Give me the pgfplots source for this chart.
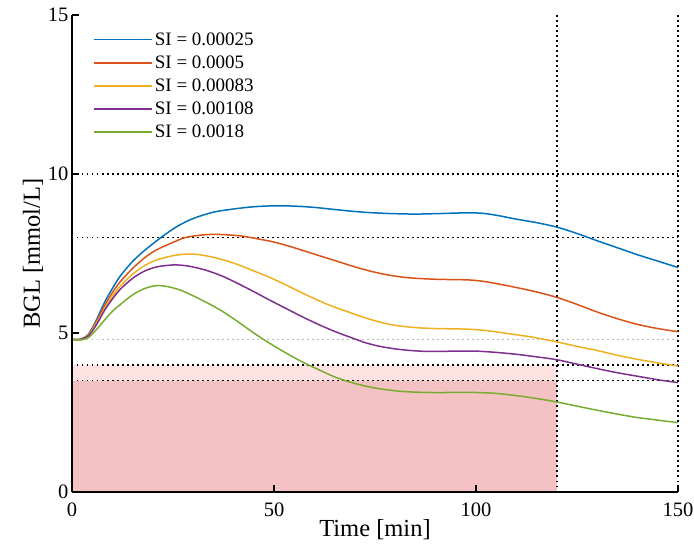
\documentclass[border=0pt]{standalone}
\usepackage{fontspec}
\setmainfont{Liberation Serif}
\usepackage{pgfplots}
\pgfplotsset{compat=1.18}
\definecolor{c1}{rgb}{0,0.447,0.741}
\definecolor{c2}{rgb}{0.85,0.325,0.098}
\definecolor{c3}{rgb}{0.929,0.694,0.125}
\definecolor{c4}{rgb}{0.494,0.184,0.556}
\definecolor{c5}{rgb}{0.466,0.674,0.188}
\definecolor{pinkA}{RGB}{255,226,226}
\definecolor{pinkB}{RGB}{244,194,194}
\begin{document}
\begin{tikzpicture}
\begin{axis}[
  scale only axis, width=606pt, height=477pt,
  xmin=0, xmax=150, ymin=0, ymax=15,
  clip=false,
  axis lines=left, axis line style={-, line width=1.5pt, black},
  xtick={0,50,100,150}, ytick={0,5,10,15},
  tick align=inside, major tick length=7pt,
  tick style={line width=1.1pt, black},
  /pgf/number format/assume math mode=true,
  tick label style={font=\fontsize{20.5}{24}\selectfont},
  xticklabel style={yshift=-7pt},
  label style={font=\fontsize{24.5}{28}\selectfont},
  xlabel={Time [min]}, ylabel={BGL [mmol/L]},
  xlabel style={yshift=4pt},
  ylabel style={yshift=-2pt},
  legend style={at={(0.03,0.972)}, anchor=north west, draw=none, fill=none,
    font=\fontsize{19}{19}\selectfont, row sep=5pt},
  legend cell align=left,
  legend image code/.code={\draw[#1, line width=1.5pt] (0pt,0pt) -- (58pt,0pt);},
  every axis plot/.append style={line width=1.5pt},
  axis on top,
]
\addplot[fill=pinkA, draw=none, forget plot] coordinates {(0,0) (120,0) (120,4) (0,4)} --cycle;
\addplot[fill=pinkB, draw=none, forget plot] coordinates {(0,0) (120,0) (120,3.5) (0,3.5)} --cycle;
\addplot[gray!55, line width=1.5pt, dash pattern=on 1.5pt off 3.5pt, forget plot] coordinates {(0,4.8) (150,4.8)};
\addplot[black, line width=1.5pt, dash pattern=on 1.5pt off 3.5pt, forget plot] coordinates {(0,10) (150,10)};
\addplot[black, line width=1.5pt, dash pattern=on 1.5pt off 3.5pt, forget plot] coordinates {(0,8) (150,8)};
\addplot[black, line width=1.5pt, dash pattern=on 1.5pt off 3.5pt, forget plot] coordinates {(0,4) (150,4)};
\addplot[black, line width=1.5pt, dash pattern=on 1.5pt off 3.5pt, forget plot] coordinates {(0,3.5) (150,3.5)};
\addplot[black, line width=1.5pt, dash pattern=on 1.5pt off 3.5pt, forget plot] coordinates {(120,0) (120,15)};
\addplot[black, line width=1.5pt, dash pattern=on 1.5pt off 3.5pt, forget plot] coordinates {(150,0) (150,15)};
\addplot[c1, smooth] coordinates {(0,4.8)(2,4.8)(4,4.95)(6,5.4)(8,5.95)(10,6.4)(12,6.8)(15,7.25)(18,7.6)(22,8.0)(26,8.35)(30,8.6)(35,8.8)(40,8.9)(45,8.97)(50,9.0)(55,8.99)(60,8.95)(66,8.87)(72,8.8)(78,8.76)(85,8.74)(92,8.76)(98,8.78)(102,8.76)(106,8.68)(110,8.58)(115,8.47)(120,8.33)(125,8.13)(130,7.9)(135,7.68)(140,7.46)(145,7.26)(150,7.06)};
\addlegendentry{SI = 0.00025}
\addplot[c2, smooth] coordinates {(0,4.8)(2,4.8)(4,4.93)(6,5.35)(8,5.85)(10,6.27)(12,6.62)(15,7.03)(18,7.37)(21,7.62)(25,7.85)(28,8.0)(32,8.08)(35,8.1)(38,8.09)(42,8.05)(46,7.96)(50,7.86)(54,7.72)(58,7.56)(62,7.4)(66,7.24)(70,7.08)(74,6.94)(78,6.83)(83,6.74)(90,6.69)(98,6.67)(102,6.62)(106,6.53)(110,6.43)(115,6.29)(120,6.12)(125,5.9)(130,5.66)(135,5.45)(140,5.27)(145,5.14)(150,5.04)};
\addlegendentry{SI = 0.0005}
\addplot[c3, smooth] coordinates {(0,4.8)(2,4.8)(4,4.92)(6,5.3)(8,5.75)(10,6.15)(12,6.48)(15,6.85)(18,7.12)(21,7.3)(25,7.43)(28,7.48)(31,7.47)(35,7.38)(40,7.2)(44,7.0)(48,6.8)(52,6.57)(56,6.32)(60,6.08)(64,5.86)(68,5.68)(72,5.5)(76,5.35)(80,5.24)(85,5.17)(90,5.14)(98,5.12)(103,5.07)(108,4.98)(114,4.87)(120,4.72)(125,4.58)(130,4.45)(135,4.3)(140,4.17)(145,4.06)(150,3.96)};
\addlegendentry{SI = 0.00083}
\addplot[c4, smooth] coordinates {(0,4.8)(2,4.8)(4,4.9)(6,5.25)(8,5.7)(10,6.07)(12,6.38)(15,6.72)(18,6.95)(21,7.08)(24,7.13)(26,7.14)(29,7.1)(33,6.98)(37,6.8)(41,6.56)(45,6.3)(49,6.03)(53,5.77)(57,5.51)(61,5.27)(65,5.05)(69,4.86)(73,4.68)(77,4.56)(82,4.47)(88,4.42)(95,4.43)(100,4.43)(105,4.39)(110,4.33)(115,4.25)(120,4.16)(125,4.02)(130,3.88)(135,3.75)(140,3.64)(145,3.53)(150,3.44)};
\addlegendentry{SI = 0.00108}
\addplot[c5, smooth] coordinates {(0,4.8)(2,4.78)(4,4.85)(6,5.1)(8,5.4)(10,5.68)(12,5.9)(15,6.2)(18,6.4)(21,6.49)(24,6.45)(27,6.34)(30,6.17)(33,5.98)(37,5.7)(41,5.36)(45,5.0)(49,4.67)(53,4.37)(57,4.09)(61,3.85)(65,3.62)(69,3.45)(73,3.32)(77,3.23)(82,3.16)(88,3.13)(95,3.13)(100,3.13)(105,3.1)(110,3.03)(115,2.94)(120,2.83)(125,2.7)(130,2.57)(135,2.45)(140,2.34)(145,2.26)(150,2.18)};
\addlegendentry{SI = 0.0018}
\end{axis}
\pgfresetboundingbox
\path[use as bounding box] ([xshift=-72pt,yshift=-68pt]current axis.south west) rectangle ([xshift=16pt,yshift=15pt]current axis.north east);
\end{tikzpicture}
\end{document}
